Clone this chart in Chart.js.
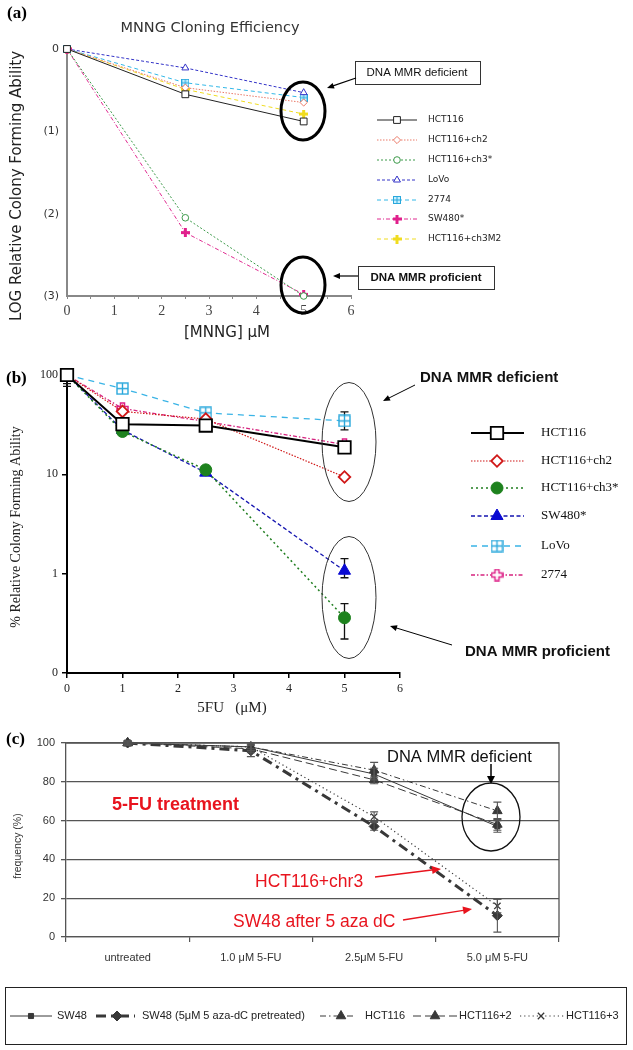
<!DOCTYPE html>
<html><head><meta charset="utf-8">
<script src="https://cdn.jsdelivr.net/npm/chart.js@4.4.0/dist/chart.umd.min.js"></script>
<style>
html,body{margin:0;padding:0;background:#fff;}
body{width:633px;height:1050px;position:relative;overflow:hidden;}
canvas{position:absolute;left:0;}
</style></head><body>
<canvas id="ca" width="633" height="340" style="top:0px"></canvas>
<canvas id="cb" width="633" height="390" style="top:340px"></canvas>
<canvas id="cc" width="633" height="320" style="top:730px"></canvas>
<script>
// ---------- DATA: panel (a) MNNG, log relative colony forming ability ----------
const mnngDose = [0, 2.5, 5];
const aLabels = ['HCT116', 'HCT116+ch2', 'HCT116+ch3*', 'LoVo', '2774', 'SW480*', 'HCT116+ch3M2'];
const aHCT116 = [0, -0.55, -0.88];
const aHCT116ch2 = [0, -0.47, -0.65];
const aHCT116ch3 = [0, -2.05, -3.0];
const aLoVo = [0, -0.23, -0.53];
const a2774 = [0, -0.41, -0.59];
const aSW480 = [0, -2.23, -2.98];
const aHCT116ch3M2 = [0, -0.49, -0.79];
const aYTicks = [0, -1, -2, -3];

// ---------- DATA: panel (b) 5FU, % relative colony forming ability ----------
const fuDose = [0, 1, 2.5, 5];
const bLabels = ['HCT116', 'HCT116+ch2', 'HCT116+ch3*', 'SW480*', 'LoVo', '2774'];
const bHCT116 = [100, 32, 31, 18.7];
const bHCT116ch2 = [100, 43, 36, 9.4];
const bHCT116ch3 = [100, 27, 11.1, 0.36];
const bSW480 = [100, 28, 10.4, 1.07];
const bLoVo = [100, 73, 41.6, 34.5];
const b2774 = [100, 46, 34, 20];
const bHCT116ch3Lo = [82, null, null, 0.22];
const bHCT116ch3Hi = [null, null, null, 0.5];
const bSW480Lo = [77, null, null, 0.91];
const bSW480Hi = [null, null, null, 1.42];
const bLoVoLo = [null, null, null, 28];
const bLoVoHi = [null, null, null, 42.6];
const bYTicks = [0.1, 1, 10, 100];

// ---------- DATA: panel (c) 5-FU treatment frequency (%) ----------
const cCats = ['untreated', '1.0 μM 5-FU', '2.5μM 5-FU', '5.0 μM 5-FU'];
const cLabels = ['SW48', 'SW48 (5μM 5 aza-dC pretreated)', 'HCT116', 'HCT116+2', 'HCT116+3'];
const cSW48 = [100, 98, 84, 57];
const cSW48aza = [100, 96, 57, 11];
const cHCT116 = [100, 98, 86, 65];
const cHCT116p2 = [100, 97, 81, 58];
const cHCT116p3 = [100, 98, 62, 16];
const cSW48Err = [1, 2, 3, 3];
const cSW48azaErr = [1, 3, 2, 8.5];
const cHCT116Err = [1, 1, 4, 4.5];
const cHCT116p2Err = [0.5, 2, 2, 3];
const cHCT116p3Err = [1, 2, 2.5, 3.5];

// ---------- marker images ----------
function mk(w, fn) { const c = document.createElement('canvas'); c.width = w; c.height = w; fn(c.getContext('2d'), w); return c; }
const mkGridSmall = mk(8, g => { g.fillStyle = '#c6f0ff'; g.strokeStyle = '#2aa8dc'; g.lineWidth = 1; g.fillRect(0.5,0.5,7,7); g.strokeRect(0.5,0.5,7,7); g.beginPath(); g.moveTo(4,0.5); g.lineTo(4,7.5); g.moveTo(0.5,4); g.lineTo(7.5,4); g.stroke(); });
const mkGridBig = mk(13, g => { g.fillStyle = '#fff'; g.strokeStyle = '#2aa8dc'; g.lineWidth = 1.4; g.fillRect(1,1,11,11); g.strokeRect(1,1,11,11); g.beginPath(); g.moveTo(6.5,1); g.lineTo(6.5,12); g.moveTo(1,6.5); g.lineTo(12,6.5); g.stroke(); });
function plusFilled(col) { return mk(9, g => { g.fillStyle = col; g.fillRect(3,0,3,9); g.fillRect(0,3,9,3); }); }
const mkPlusMag = plusFilled('#e0208c');
const mkPlusYel = plusFilled('#f0dc20');
const mkPlusOpen = mk(13, g => { g.fillStyle = '#fff'; g.strokeStyle = '#dd1f86'; g.lineWidth = 1.5;
  g.beginPath(); g.moveTo(4.5,1); g.lineTo(8.5,1); g.lineTo(8.5,4.5); g.lineTo(12,4.5); g.lineTo(12,8.5); g.lineTo(8.5,8.5); g.lineTo(8.5,12); g.lineTo(4.5,12); g.lineTo(4.5,8.5); g.lineTo(1,8.5); g.lineTo(1,4.5); g.lineTo(4.5,4.5); g.closePath(); g.fill(); g.stroke(); });

// ---------- helpers / inline plugins ----------
function drawMarker(ctx, style, r, x, y) {
  if (Chart.helpers && Chart.helpers.drawPoint) {
    Chart.helpers.drawPoint(ctx, {pointStyle: style, radius: r, rotation: 0, borderWidth: ctx.lineWidth}, x, y);
  } else if (typeof style === 'object') {
    ctx.drawImage(style, x - style.width/2, y - style.height/2);
  } else { ctx.beginPath(); ctx.arc(x, y, r, 0, Math.PI*2); ctx.fill(); ctx.stroke(); }
}
function arrow(ctx, it) {
  const {x1, y1, x2, y2} = it; const hl = it.hl || 8, hw = it.hw || 3.5;
  const a = Math.atan2(y2 - y1, x2 - x1);
  ctx.strokeStyle = it.color || '#000'; ctx.fillStyle = it.color || '#000'; ctx.lineWidth = it.lw || 1;
  ctx.beginPath(); ctx.moveTo(x1, y1); ctx.lineTo(x2 - Math.cos(a)*hl*0.8, y2 - Math.sin(a)*hl*0.8); ctx.stroke();
  ctx.beginPath(); ctx.moveTo(x2, y2);
  ctx.lineTo(x2 - Math.cos(a)*hl - Math.sin(a)*hw, y2 - Math.sin(a)*hl + Math.cos(a)*hw);
  ctx.lineTo(x2 - Math.cos(a)*hl + Math.sin(a)*hw, y2 - Math.sin(a)*hl - Math.cos(a)*hw);
  ctx.closePath(); ctx.fill();
}
function annotate(top, items) {
  return {id: 'ann', afterDraw(chart) {
    const ctx = chart.ctx;
    items.forEach(it => {
      ctx.save(); ctx.translate(0, -top);
      if (it.t === 'text') {
        ctx.font = it.font; ctx.fillStyle = it.color || '#000';
        ctx.textAlign = it.align || 'left'; ctx.textBaseline = 'middle';
        if (it.rot) { ctx.translate(it.x, it.y); ctx.rotate(it.rot); ctx.fillText(it.text, 0, 0); }
        else ctx.fillText(it.text, it.x, it.y);
      } else if (it.t === 'ellipse') {
        ctx.beginPath(); ctx.ellipse(it.x, it.y, it.rx, it.ry, 0, 0, Math.PI*2);
        ctx.lineWidth = it.lw || 1; ctx.strokeStyle = it.color || '#000'; ctx.stroke();
      } else if (it.t === 'rect') {
        ctx.lineWidth = it.lw || 1; ctx.strokeStyle = it.color || '#000';
        if (it.fill) { ctx.fillStyle = it.fill; ctx.fillRect(it.x, it.y, it.w, it.h); }
        ctx.strokeRect(it.x + 0.5, it.y + 0.5, it.w, it.h);
      } else if (it.t === 'arrow') { arrow(ctx, it); }
      ctx.restore();
    });
  }};
}
function legend(top, font, color, items) {
  return {id: 'leg', afterDraw(chart) {
    const ctx = chart.ctx;
    chart.data.datasets.forEach((ds, i) => {
      const it = items[i]; if (!it) return;
      const y = it.y - top;
      ctx.save();
      ctx.strokeStyle = ds.borderColor; ctx.lineWidth = ds.borderWidth; ctx.setLineDash(ds.borderDash || []);
      ctx.beginPath(); ctx.moveTo(it.x0, y); ctx.lineTo(it.x1, y); ctx.stroke();
      ctx.setLineDash([]);
      ctx.fillStyle = ds.pointBackgroundColor; ctx.strokeStyle = ds.pointBorderColor; ctx.lineWidth = ds.pointBorderWidth || 1;
      drawMarker(ctx, ds.pointStyle, ds.pointRadius, it.m, y);
      ctx.fillStyle = color; ctx.font = font; ctx.textAlign = 'left'; ctx.textBaseline = 'middle';
      ctx.fillText(ds.label, it.tx, y);
      ctx.restore();
    });
  }};
}
function errorBars(phase, color, lw, cw) {
  function draw(chart) {
    const ctx = chart.ctx;
    chart.data.datasets.forEach((ds, i) => {
      if (!ds.errLo && !ds.errHi) return;
      const meta = chart.getDatasetMeta(i); const ys = chart.scales[meta.yAxisID];
      meta.data.forEach((pt, j) => {
        const lo = ds.errLo ? ds.errLo[j] : null, hi = ds.errHi ? ds.errHi[j] : null;
        ctx.save(); ctx.strokeStyle = color; ctx.lineWidth = lw;
        [lo, hi].forEach(v => {
          if (v === null || v === undefined) return;
          const yp = ys.getPixelForValue(v);
          ctx.beginPath(); ctx.moveTo(pt.x, pt.y); ctx.lineTo(pt.x, yp);
          ctx.moveTo(pt.x - cw, yp); ctx.lineTo(pt.x + cw, yp); ctx.stroke();
        });
        ctx.restore();
      });
    });
  }
  return phase === 'before' ? {id: 'err', beforeDatasetsDraw: draw} : {id: 'err', afterDatasetsDraw: draw};
}
function frame(color, lw) {
  return {id: 'frame', afterDraw(chart) {
    const {ctx, chartArea: a} = chart;
    ctx.save(); ctx.strokeStyle = color; ctx.lineWidth = lw;
    ctx.beginPath(); ctx.moveTo(a.left, a.top); ctx.lineTo(a.right, a.top); ctx.lineTo(a.right, a.bottom); ctx.stroke();
    ctx.restore();
  }};
}

function xy(xs, ys) { return xs.map((x, k) => ({x: x, y: ys[k]})); }
function ds(label, data, o) {
  return Object.assign({label: label, data: data, fill: false, tension: 0, clip: false,
    borderColor: o.color, borderWidth: o.lw || 1, borderDash: o.dash || [],
    pointStyle: o.ps, pointRadius: o.r, pointHoverRadius: o.r,
    pointBackgroundColor: o.bg, pointBorderColor: o.pb || o.color, pointBorderWidth: o.pbw || 1}, o.extra || {});
}
const basePlugins = {legend: {display: false}, tooltip: {enabled: false}, title: {display: false}};
const DJ = "'DejaVu Sans'", LS = "'Liberation Sans'", LSe = "'Liberation Serif'";

// ================= PANEL (a) =================
const legA = [120, 140, 160, 180, 200, 219, 239].map(y => ({y: y, x0: 377, x1: 417, m: 397, tx: 428}));
new Chart(document.getElementById('ca'), {
  type: 'line',
  data: {datasets: [
    ds(aLabels[0], xy(mnngDose, aHCT116), {color: '#222', lw: 1, ps: 'rect', r: 4.8, bg: '#fff'}),
    ds(aLabels[1], xy(mnngDose, aHCT116ch2), {color: '#ea7a68', lw: 1, dash: [1.5, 1.5], ps: 'rectRot', r: 3.6, bg: '#fff'}),
    ds(aLabels[2], xy(mnngDose, aHCT116ch3), {color: '#3c9a4a', lw: 1, dash: [2, 2], ps: 'circle', r: 3.3, bg: '#fff'}),
    ds(aLabels[3], xy(mnngDose, aLoVo), {color: '#3434c8', lw: 1, dash: [3, 2], ps: 'triangle', r: 4, bg: '#fff'}),
    ds(aLabels[4], xy(mnngDose, a2774), {color: '#33b8e8', lw: 1, dash: [4, 3], ps: mkGridSmall, r: 4, bg: '#c6f0ff'}),
    ds(aLabels[5], xy(mnngDose, aSW480), {color: '#e02a90', lw: 1, dash: [4, 2, 1, 2], ps: mkPlusMag, r: 4, bg: '#e0208c'}),
    ds(aLabels[6], xy(mnngDose, aHCT116ch3M2), {color: '#f0dc20', lw: 1, dash: [4, 3], ps: mkPlusYel, r: 4, bg: '#f0dc20'})
  ]},
  options: {
    responsive: false, animation: false, devicePixelRatio: 1, events: [],
    layout: {padding: {left: 0, top: 49, right: 282, bottom: 0}, autoPadding: false},
    scales: {
      x: {type: 'linear', min: 0, max: 6,
        afterFit: s => { s.height = 44; },
        border: {display: true, color: '#888', width: 2},
        grid: {display: true, drawOnChartArea: false, drawTicks: true, tickLength: 3, color: '#888', lineWidth: 1},
        ticks: {stepSize: 0.5, autoSkip: false, maxRotation: 0, padding: 4, color: '#444',
          font: {family: LSe, size: 14}, callback: v => Number.isInteger(v) ? String(v) : ''}},
      y: {type: 'linear', min: -3, max: 0,
        afterFit: s => { s.width = 67; },
        afterBuildTicks: s => { s.ticks = aYTicks.map(v => ({value: v})); },
        border: {display: true, color: '#888', width: 2},
        grid: {display: false, drawTicks: false},
        ticks: {padding: 8, color: '#333', font: {family: DJ, size: 11},
          callback: v => v === 0 ? '0' : '(' + (-v) + ')'}}
    },
    plugins: basePlugins
  },
  plugins: [
    legend(0, "9px " + DJ, '#222', legA),
    annotate(0, [
      {t: 'text', text: '(a)', x: 7, y: 14, font: "bold 17px " + LSe, color: '#000'},
      {t: 'text', text: 'MNNG Cloning Efficiency', x: 210, y: 28, align: 'center', font: "14.5px " + DJ, color: '#333'},
      {t: 'text', text: 'LOG Relative Colony Forming Ability', x: 17, y: 186, rot: -Math.PI/2, align: 'center', font: "15px " + DJ, color: '#222'},
      {t: 'text', text: '[MNNG] μM', x: 227, y: 333, align: 'center', font: "15px " + DJ, color: '#222'},
      {t: 'ellipse', x: 303, y: 111, rx: 22, ry: 29, lw: 3, color: '#000'},
      {t: 'ellipse', x: 303, y: 285, rx: 22, ry: 28, lw: 3, color: '#000'},
      {t: 'rect', x: 355, y: 61, w: 125, h: 23, lw: 1, color: '#333', fill: '#fff'},
      {t: 'text', text: 'DNA MMR deficient', x: 417, y: 73, align: 'center', font: "11.5px " + LS, color: '#111'},
      {t: 'rect', x: 358, y: 266, w: 136, h: 23, lw: 1, color: '#333', fill: '#fff'},
      {t: 'text', text: 'DNA MMR proficient', x: 426, y: 278, align: 'center', font: "bold 11.5px " + LS, color: '#111'},
      {t: 'arrow', x1: 356, y1: 78, x2: 327, y2: 88, lw: 1.2, hl: 7, hw: 3, color: '#000'},
      {t: 'arrow', x1: 358, y1: 276, x2: 333, y2: 276, lw: 1.2, hl: 7, hw: 3, color: '#000'}
    ])
  ]
});

// ================= PANEL (b) =================
const legB = [433, 461, 488, 516, 546, 575].map(y => ({y: y, x0: 471, x1: 524, m: 497, tx: 541}));
new Chart(document.getElementById('cb'), {
  type: 'line',
  data: {datasets: [
    ds(bLabels[0], xy(fuDose, bHCT116), {color: '#000', lw: 2, ps: 'rect', r: 8.8, bg: '#fff', pbw: 1.8}),
    ds(bLabels[1], xy(fuDose, bHCT116ch2), {color: '#d01818', lw: 1.2, dash: [1.5, 1.5], ps: 'rectRot', r: 5.8, bg: '#fff', pbw: 1.8}),
    ds(bLabels[2], xy(fuDose, bHCT116ch3), {color: '#1f7d1f', lw: 1.5, dash: [2, 3], ps: 'circle', r: 6, bg: '#1e821e', pb: '#1e821e',
      extra: {errLo: bHCT116ch3Lo, errHi: bHCT116ch3Hi}}),
    ds(bLabels[3], xy(fuDose, bSW480), {color: '#1414b0', lw: 1.3, dash: [4, 2.5], ps: 'triangle', r: 7, bg: '#0a0ad2', pb: '#0a0ad2',
      extra: {errLo: bSW480Lo, errHi: bSW480Hi}}),
    ds(bLabels[4], xy(fuDose, bLoVo), {color: '#3ab4e6', lw: 1.3, dash: [6, 5], ps: mkGridBig, r: 6.5, bg: '#fff',
      extra: {errLo: bLoVoLo, errHi: bLoVoHi}}),
    ds(bLabels[5], xy(fuDose, b2774), {color: '#d6237f', lw: 1.3, dash: [4, 2, 1.5, 2], ps: mkPlusOpen, r: 6.5, bg: '#fff'})
  ]},
  options: {
    responsive: false, animation: false, devicePixelRatio: 1, events: [],
    layout: {padding: {left: 0, top: 35, right: 233, bottom: 0}, autoPadding: false},
    scales: {
      x: {type: 'linear', min: 0, max: 6,
        afterFit: s => { s.height = 57; },
        border: {display: true, color: '#000', width: 2},
        grid: {display: true, drawOnChartArea: false, drawTicks: true, tickLength: 5, color: '#000', lineWidth: 1.5},
        ticks: {stepSize: 1, autoSkip: false, maxRotation: 0, padding: 4, color: '#222', font: {family: LSe, size: 12}}},
      y: {type: 'logarithmic', min: 0.1, max: 100,
        afterFit: s => { s.width = 67; },
        afterBuildTicks: s => { s.ticks = bYTicks.map(v => ({value: v})); },
        border: {display: true, color: '#000', width: 2},
        grid: {display: true, drawOnChartArea: false, drawTicks: true, tickLength: 5, color: '#000', lineWidth: 1.5},
        ticks: {padding: 4, color: '#222', font: {family: LSe, size: 12},
          callback: v => v === 0.1 ? '0' : String(v)}}
    },
    plugins: basePlugins
  },
  plugins: [
    errorBars('before', '#111', 1.3, 4),
    legend(340, "13px " + LSe, '#111', legB),
    annotate(340, [
      {t: 'text', text: '(b)', x: 6, y: 379, font: "bold 17px " + LSe, color: '#000'},
      {t: 'text', text: '% Relative Colony Forming Ability', x: 16, y: 527, rot: -Math.PI/2, align: 'center', font: "14px " + LSe, color: '#222'},
      {t: 'text', text: '5FU   (μM)', x: 232, y: 708, align: 'center', font: "15px " + LSe, color: '#222'},
      {t: 'ellipse', x: 349, y: 442, rx: 27, ry: 59.5, lw: 1, color: '#333'},
      {t: 'ellipse', x: 349, y: 597.5, rx: 27, ry: 61, lw: 1, color: '#333'},
      {t: 'text', text: 'DNA MMR deficient', x: 420, y: 378, font: "bold 15px " + LS, color: '#111'},
      {t: 'text', text: 'DNA MMR proficient', x: 465, y: 652, font: "bold 15px " + LS, color: '#111'},
      {t: 'arrow', x1: 415, y1: 385, x2: 383, y2: 401, lw: 1, hl: 7, hw: 3, color: '#000'},
      {t: 'arrow', x1: 452, y1: 645, x2: 390, y2: 626, lw: 1, hl: 7, hw: 3, color: '#000'}
    ])
  ]
});

// ================= PANEL (c) =================
const dk = '#383838';
function withErr(v, e) { return {errLo: v.map((x, k) => x - e[k]), errHi: v.map((x, k) => x + e[k])}; }
const legC = [
  {y: 1016, x0: 10, x1: 52, m: 31, tx: 57},
  {y: 1016, x0: 96, x1: 135, m: 117, tx: 142},
  {y: 1016, x0: 320, x1: 355, m: 341, tx: 365},
  {y: 1016, x0: 413, x1: 457, m: 435, tx: 459},
  {y: 1016, x0: 520, x1: 564, m: 541, tx: 566}];
new Chart(document.getElementById('cc'), {
  type: 'line',
  data: {labels: cCats, datasets: [
    ds(cLabels[0], cSW48, {color: dk, lw: 1, ps: 'rect', r: 3.6, bg: dk, extra: withErr(cSW48, cSW48Err)}),
    ds(cLabels[1], cSW48aza, {color: dk, lw: 3, dash: [10, 5, 3, 5], ps: 'rectRot', r: 5, bg: dk, extra: withErr(cSW48aza, cSW48azaErr)}),
    ds(cLabels[2], cHCT116, {color: dk, lw: 1, dash: [6, 3, 1.5, 3], ps: 'triangle', r: 5.5, bg: dk, extra: withErr(cHCT116, cHCT116Err)}),
    ds(cLabels[3], cHCT116p2, {color: dk, lw: 1, dash: [8, 4], ps: 'triangle', r: 5.5, bg: dk, extra: withErr(cHCT116p2, cHCT116p2Err)}),
    ds(cLabels[4], cHCT116p3, {color: dk, lw: 1.2, dash: [1.2, 3], ps: 'crossRot', r: 4.5, bg: dk, pbw: 1.3, extra: withErr(cHCT116p3, cHCT116p3Err)})
  ]},
  options: {
    responsive: false, animation: false, devicePixelRatio: 1, events: [],
    layout: {padding: {left: 0, top: 13, right: 74, bottom: 0}, autoPadding: false},
    scales: {
      x: {type: 'category', offset: true,
        afterFit: s => { s.height = 113; },
        border: {display: true, color: '#555', width: 1.3},
        grid: {display: true, offset: true, drawOnChartArea: false, drawTicks: true, tickLength: 5, color: '#555', lineWidth: 1.2},
        ticks: {autoSkip: false, maxRotation: 0, padding: 9, color: '#333', font: {family: LS, size: 11}}},
      y: {type: 'linear', min: 0, max: 100,
        afterFit: s => { s.width = 66; },
        border: {display: true, color: '#555', width: 1.3},
        grid: {display: true, drawTicks: true, tickLength: 5, color: '#555', lineWidth: 1.3},
        ticks: {stepSize: 20, padding: 6, color: '#333', font: {family: LS, size: 11}}}
    },
    plugins: basePlugins
  },
  plugins: [
    frame('#555', 1.3),
    errorBars('after', '#555', 1.1, 4),
    annotate(730, [
      {t: 'text', text: '(c)', x: 6, y: 740, font: "bold 17px " + LSe, color: '#000'},
      {t: 'text', text: 'frequency (%)', x: 18, y: 846, rot: -Math.PI/2, align: 'center', font: "10.5px " + LS, color: '#333'},
      {t: 'rect', x: 5, y: 987, w: 621, h: 57, lw: 1, color: '#222'},
      {t: 'text', text: '5-FU treatment', x: 112, y: 805, font: "bold 18px " + LS, color: '#e8141e'},
      {t: 'text', text: 'DNA MMR deficient', x: 387, y: 757, font: "16.5px " + LS, color: '#111'},
      {t: 'arrow', x1: 491, y1: 764, x2: 491, y2: 784, lw: 1.5, hl: 8, hw: 4, color: '#000'},
      {t: 'ellipse', x: 491, y: 817, rx: 29, ry: 34, lw: 1.3, color: '#111'},
      {t: 'text', text: 'HCT116+chr3', x: 255, y: 882, font: "17.5px " + LS, color: '#e8141e'},
      {t: 'arrow', x1: 375, y1: 877, x2: 441, y2: 869, lw: 1.5, hl: 9, hw: 4, color: '#e8141e'},
      {t: 'text', text: 'SW48 after 5 aza dC', x: 233, y: 922, font: "17.5px " + LS, color: '#e8141e'},
      {t: 'arrow', x1: 403, y1: 920, x2: 472, y2: 909, lw: 1.5, hl: 9, hw: 4, color: '#e8141e'}
    ]),
    legend(730, "11px " + LS, '#222', legC)
  ]
});
</script>
</body></html>
